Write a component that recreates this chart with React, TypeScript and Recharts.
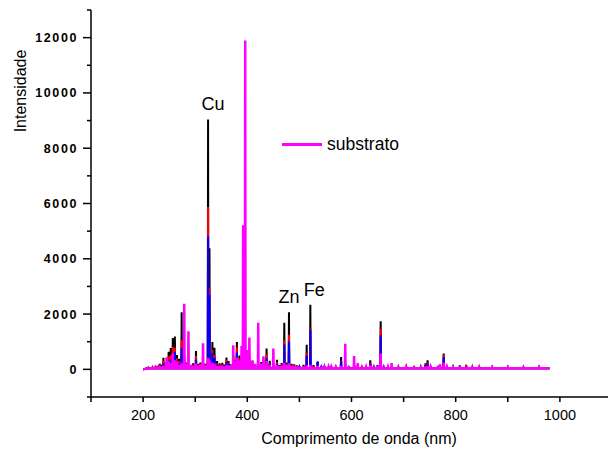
import { Legend, Line, LineChart, ReferenceDot, XAxis, YAxis } from 'recharts'

// emission lines (nm) and the intensity of each sample at that line
const comprimentos = [
  210, 218, 224, 229, 232, 236, 239, 245, 249, 253, 257, 261, 265, 269, 274, 279, 283, 287, 292, 296,
  301.5, 306, 310, 315, 320, 324.7, 327.4, 333, 337, 342, 347, 352, 356, 360, 364, 368, 373, 377, 380, 385,
  389, 392, 396, 400, 404, 410, 415, 421, 427, 431, 437, 443, 450, 457, 462, 466, 471, 475, 480, 485,
  490, 495, 500, 508, 514, 521, 527, 535, 542, 548, 556, 561, 570, 580, 588, 595, 605, 612, 620, 628,
  636, 643, 650, 656, 662, 670, 677, 690, 705, 720, 733, 742, 746, 752, 766, 770, 777, 783, 795, 808,
  820, 832, 845, 870, 900, 930, 960
]
const amostraPreta = [
  60, 90, 130, 100, 200, 160, 420, 260, 640, 770, 1130, 1190, 520, 380, 2070, 450, 250, 180, 160, 220,
  660, 200, 250, 320, 200, 9040, 4380, 990, 780, 300, 220, 240, 170, 430, 300, 180, 520, 350, 990, 500,
  260, 320, 350, 260, 400, 300, 180, 230, 260, 330, 750, 310, 220, 350, 150, 230, 1690, 250, 2070, 200,
  180, 140, 130, 160, 890, 2340, 150, 260, 120, 130, 100, 120, 100, 450, 200, 110, 150, 140, 100, 110,
  330, 120, 150, 1740, 120, 90, 120, 80, 80, 90, 80, 220, 330, 100, 120, 130, 570, 100, 80, 145,
  150, 80, 110, 70, 70, 70, 70
]
const amostraVermelha = [
  50, 70, 100, 80, 150, 120, 310, 210, 470, 520, 820, 770, 400, 300, 1050, 330, 200, 140, 120, 170,
  480, 160, 200, 230, 160, 5870, 2930, 700, 520, 220, 170, 180, 130, 340, 240, 140, 420, 270, 800, 400,
  200, 250, 280, 200, 300, 230, 140, 180, 200, 260, 550, 240, 170, 260, 120, 180, 1050, 200, 1250, 160,
  140, 110, 100, 120, 600, 1470, 120, 250, 100, 100, 80, 90, 80, 320, 150, 90, 120, 110, 80, 90,
  250, 100, 120, 1470, 100, 70, 100, 60, 60, 70, 60, 180, 250, 80, 90, 100, 530, 80, 60, 120,
  170, 60, 80, 60, 60, 60, 60
]
const amostraAzul = [
  40, 50, 70, 60, 110, 90, 220, 150, 320, 360, 520, 630, 300, 220, 760, 230, 150, 110, 100, 130,
  350, 120, 150, 170, 120, 4810, 2700, 600, 410, 170, 130, 140, 100, 260, 200, 110, 310, 200, 610, 300,
  160, 200, 220, 160, 220, 170, 110, 130, 150, 200, 400, 200, 130, 200, 100, 140, 900, 160, 1010, 130,
  110, 90, 80, 100, 500, 1430, 100, 290, 80, 80, 70, 70, 60, 300, 120, 70, 100, 90, 60, 70,
  200, 80, 100, 1230, 80, 60, 80, 50, 50, 60, 50, 150, 200, 60, 70, 80, 445, 60, 50, 100,
  120, 50, 60, 50, 50, 50, 50
]
const substrato = [
  30, 40, 60, 50, 70, 90, 120, 440, 300, 230, 580, 330, 280, 160, 220, 2370, 200, 1380, 150, 120,
  220, 110, 180, 940, 150, 420, 330, 250, 200, 120, 110, 130, 100, 160, 130, 140, 870, 300, 420, 330,
  850, 5210, 11900, 700, 1150, 330, 200, 1690, 210, 470, 300, 160, 750, 150, 110, 130, 230, 150, 220, 120,
  110, 100, 90, 100, 150, 160, 90, 120, 90, 80, 80, 80, 70, 120, 930, 110, 480, 230, 90, 80,
  150, 90, 130, 570, 110, 80, 230, 70, 80, 90, 70, 90, 110, 80, 110, 180, 240, 80, 70, 100,
  90, 70, 70, 70, 70, 70, 70
]

const inicio = 200
const fim = 980
const base = 40

const xTicks = [100, 200, 300, 400, 500, 600, 700, 800, 900, 1000, 1100]
const yTicks = [-1000, 0, 1000, 2000, 3000, 4000, 5000, 6000, 7000, 8000, 9000, 10000, 11000, 12000, 13000]

const rotulos = [
  { nome: 'Cu', nm: 324.7, valor: 9040, dx: 5 },
  { nome: 'Zn', nm: 480, valor: 2070, dx: 0 },
  { nome: 'Fe', nm: 521, valor: 2340, dx: 4 }
]

const COLORS = {
  preta: '#000000',
  vermelha: '#ff0000',
  azul: '#0000ff',
  substrato: '#ff00ff'
}

const FONT = '"Liberation Sans", Arial, sans-serif'

const baseRow = (nm: number, v: number) => ({ nm, preta: v, vermelha: v, azul: v, substrato: v })

// each line is drawn as a narrow stick standing on the baseline
const data = [
  baseRow(inicio, 0),
  ...comprimentos.flatMap((nm, i) => [
    baseRow(nm - 0.6, base),
    { nm, preta: amostraPreta[i], vermelha: amostraVermelha[i], azul: amostraAzul[i], substrato: substrato[i] },
    baseRow(nm + 0.6, base)
  ]),
  baseRow(fim, base)
]

const YTick = (props: any) => {
  const { x, y, payload } = props
  const v = payload.value
  const major = v % 2000 === 0 && v >= 0 && v <= 12000
  return (
    <g>
      <line x1={x - (major ? 8 : 4)} x2={x} y1={y} y2={y} stroke="#000" strokeWidth={1.5} />
      {major && (
        <text x={x - 13} y={y + 4.5} textAnchor="end" fontSize={12.5} fontWeight="bold" letterSpacing={1.6} fill="#000" fontFamily={FONT}>
          {v}
        </text>
      )}
    </g>
  )
}

const XTick = (props: any) => {
  const { x, y, payload } = props
  const v = payload.value
  const label = v % 200 === 0 && v >= 200 && v <= 1000
  return (
    <g>
      <line x1={x} x2={x} y1={y} y2={y + 5} stroke="#000" strokeWidth={1.5} />
      {label && (
        <text x={x} y={y + 23} textAnchor="middle" fontSize={14.5} fill="#000" fontFamily={FONT}>
          {v}
        </text>
      )}
    </g>
  )
}

const LegendBox = (props: any) => {
  const items = (props.payload || []).filter((p: any) => p.dataKey === 'substrato')
  return (
    <div style={{ fontFamily: FONT }}>
      {items.map((p: any) => (
        <div key={p.value} style={{ display: 'flex', alignItems: 'center' }}>
          <div style={{ width: 40, height: 3, background: p.color, marginRight: 5 }} />
          <span style={{ fontSize: 17.5, color: '#000' }}>{p.value}</span>
        </div>
      ))}
    </div>
  )
}

export default function App() {
  return (
    <div style={{ position: 'absolute', left: 0, top: 0, width: 608, height: 452, overflow: 'hidden', background: '#fff', fontFamily: FONT }}>
      <LineChart width={620} height={452} data={data} margin={{ top: 10, right: 8, bottom: 0, left: 0 }}>
        <XAxis
          dataKey="nm"
          type="number"
          domain={[100, 1100]}
          ticks={xTicks}
          interval={0}
          allowDataOverflow
          height={55}
          tickSize={0}
          tickMargin={0}
          tick={<XTick />}
          axisLine={{ stroke: '#000', strokeWidth: 1.5 }}
          label={{
            content: () => (
              <text x={359} y={444} textAnchor="middle" fontSize={16} fill="#000" fontFamily={FONT}>
                Comprimento de onda (nm)
              </text>
            )
          }}
        />
        <YAxis
          type="number"
          domain={[-1000, 13000]}
          ticks={yTicks}
          interval={0}
          allowDataOverflow
          width={91}
          tickSize={0}
          tickMargin={0}
          tick={<YTick />}
          axisLine={{ stroke: '#000', strokeWidth: 1.5 }}
          label={{
            content: () => (
              <text x={26} y={91} transform="rotate(-90, 26, 91)" textAnchor="middle" fontSize={16} fill="#000" fontFamily={FONT}>
                Intensidade
              </text>
            )
          }}
        />
        <Line type="linear" dataKey="preta" name="amostra 1" stroke={COLORS.preta} strokeWidth={2} dot={false} legendType="none" isAnimationActive={false} />
        <Line type="linear" dataKey="vermelha" name="amostra 2" stroke={COLORS.vermelha} strokeWidth={2} dot={false} legendType="none" isAnimationActive={false} />
        <Line type="linear" dataKey="azul" name="amostra 3" stroke={COLORS.azul} strokeWidth={2} dot={false} legendType="none" isAnimationActive={false} />
        <Line type="linear" dataKey="substrato" name="substrato" stroke={COLORS.substrato} strokeWidth={2.5} dot={false} isAnimationActive={false} />
        {rotulos.map((r) => (
          <ReferenceDot
            key={r.nome}
            x={r.nm}
            y={r.valor}
            r={1}
            fill="none"
            stroke="none"
            label={{
              content: (p: any) => (
                <text x={p.viewBox.x + p.viewBox.width / 2 + r.dx} y={p.viewBox.y - 8} textAnchor="middle" fontSize={18} fill="#000" fontFamily={FONT}>
                  {r.nome}
                </text>
              )
            }}
          />
        ))}
        <Legend
          content={<LegendBox />}
          layout="vertical"
          align="center"
          verticalAlign="middle"
          wrapperStyle={{ left: 282, top: 134, width: 'auto', height: 'auto' }}
        />
      </LineChart>
    </div>
  )
}
